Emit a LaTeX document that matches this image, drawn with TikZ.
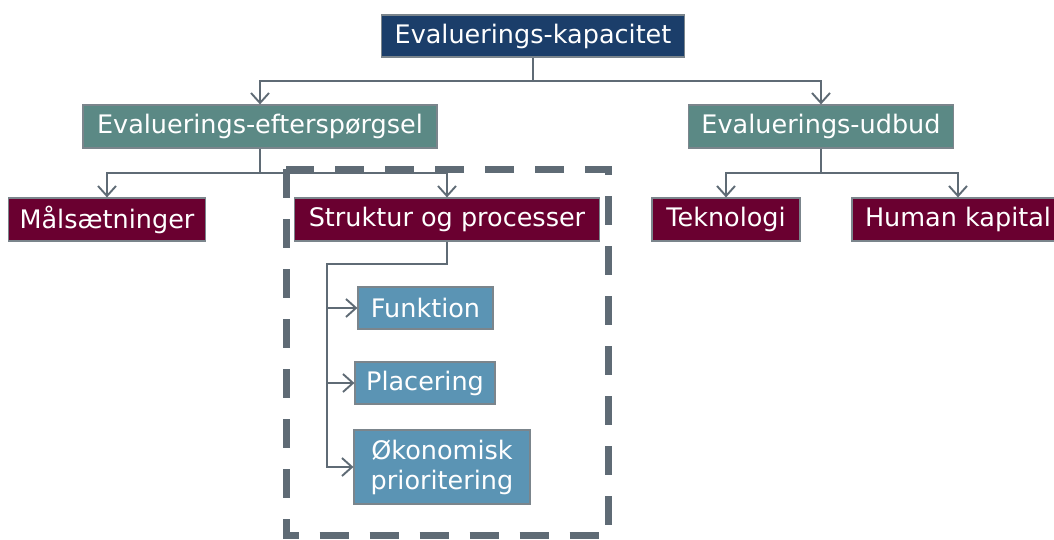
\documentclass[tikz,border=0pt]{standalone}
\usepackage{fontspec}
\setmainfont{DejaVu Sans}
\usepackage{xcolor}
\usetikzlibrary{calc, positioning, arrows.meta}
\definecolor{navy}{HTML}{1B3E6A}
\definecolor{teal}{HTML}{5B8985}
\definecolor{wine}{HTML}{6A0030}
\definecolor{steel}{HTML}{5B94B4}
\definecolor{edge}{HTML}{7B858C}
\definecolor{wire}{HTML}{5F6B75}

\begin{document}
\begin{tikzpicture}[
        x=1pt, y=-1pt,
        % Styles
        base/.style  ={rectangle, draw=edge, line width=1.2pt, text=white, align=center, inner sep=0pt, font=\fontsize{25.5}{30}\selectfont},
        top/.style   ={base, fill=navy},
        mid/.style   ={base, fill=teal},
        leaf/.style  ={base, fill=wine},
        sub/.style   ={base, fill=steel},
        line/.style  ={draw=wire, line width=1.9pt, -{Straight Barb[length=10pt, width=18pt, line width=1.9pt]}},
        frame/.style ={draw=wire, line width=7pt, dash pattern=on 29pt off 21pt}
    ]
    \useasboundingbox (0,0) rectangle (1054,539);

    % Dashed frame
    \draw[frame] (286,169) rectangle (608.5,535.5);

    % Root
    \node[top, minimum width=303, minimum height=42] (Kap) at (533,36) {Evaluerings-kapacitet};

    % Second level
    \node[mid, minimum width=354, minimum height=43] (Eft) at (260,126.5) {Evaluerings-efterspørgsel};
    \node[mid, minimum width=265, minimum height=43] (Udb) at (821,126.5) {Evaluerings-udbud};

    \coordinate (KapJ) at ($(Kap.south) + (0,23)$);
    \draw[line] (Kap.south) -- (KapJ) -| (Eft.north);
    \draw[line] (KapJ) -| (Udb.north);

    % Third level
    \node[leaf, minimum width=197, minimum height=43] (Mal) at (107,219.5) {Målsætninger};
    \node[leaf, minimum width=305, minimum height=43] (Str) at (447,219.5) {Struktur og processer};
    \node[leaf, minimum width=148, minimum height=43] (Tek) at (726,219.5) {Teknologi};
    \node[leaf, minimum width=212, minimum height=43] (Hum) at (958,219.5) {Human kapital};

    \coordinate (EftJ) at ($(Eft.south) + (0,24)$);
    \draw[line] (Eft.south) -- (EftJ) -| (Mal.north);
    \draw[line] (EftJ) -| (Str.north);

    \coordinate (UdbJ) at ($(Udb.south) + (0,24)$);
    \draw[line] (Udb.south) -- (UdbJ) -| (Tek.north);
    \draw[line] (UdbJ) -| (Hum.north);

    % Inside the frame
    \node[sub, minimum width=135, minimum height=42] (Fun) at (425.5,308) {Funktion};
    \node[sub, minimum width=140, minimum height=42] (Pla) at (425,383) {Placering};
    \node[sub, minimum width=176, minimum height=74] (Oko) at (442,467) {Økonomisk\\prioritering};

    \coordinate (StrJ) at (327,264);
    \draw[line] (Str.south) |- (StrJ) |- (Fun.west);
    \draw[line] (StrJ) |- (Pla.west);
    \draw[line] (StrJ) |- (Oko.west);

\end{tikzpicture}
\end{document}
